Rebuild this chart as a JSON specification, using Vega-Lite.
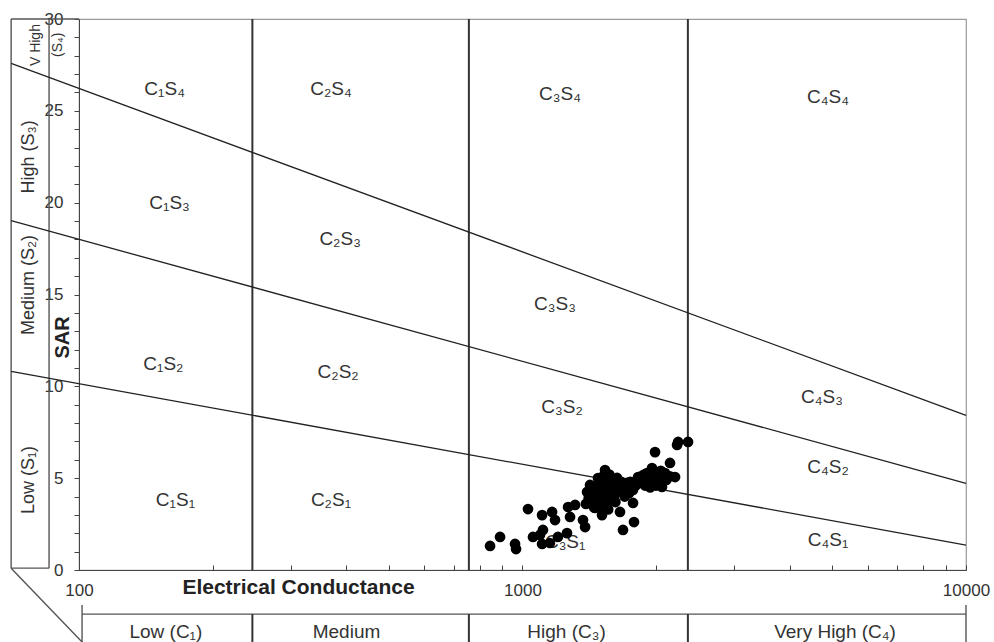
{
  "$schema": "https://vega.github.io/schema/vega-lite/v6.json",
  "width": 887,
  "height": 551,
  "autosize": {"type": "none"},
  "padding": {"left": 79, "top": 19, "right": 28, "bottom": 72},
  "background": "white",
  "config": {
    "font": "Liberation Sans",
    "view": {"stroke": "#9a9a9a", "strokeWidth": 1.2},
    "axis": {"grid": false}
  },
  "datasets": {
    "points": [
      {"ec": 845, "sar": 1.31}, {"ec": 890, "sar": 1.8}, {"ec": 962, "sar": 1.42}, {"ec": 967, "sar": 1.14},
      {"ec": 1029, "sar": 3.32}, {"ec": 1056, "sar": 1.8}, {"ec": 1095, "sar": 1.91}, {"ec": 1107, "sar": 2.99},
      {"ec": 1112, "sar": 2.18}, {"ec": 1107, "sar": 1.42}, {"ec": 1153, "sar": 1.47}, {"ec": 1166, "sar": 3.16},
      {"ec": 1184, "sar": 2.72}, {"ec": 1202, "sar": 1.8}, {"ec": 1260, "sar": 2.01}, {"ec": 1267, "sar": 3.43},
      {"ec": 1280, "sar": 2.89}, {"ec": 1314, "sar": 3.54}, {"ec": 1369, "sar": 2.72}, {"ec": 1384, "sar": 2.34},
      {"ec": 1398, "sar": 4.25}, {"ec": 1420, "sar": 4.63}, {"ec": 1442, "sar": 3.81}, {"ec": 1457, "sar": 3.38},
      {"ec": 1495, "sar": 4.9}, {"ec": 1511, "sar": 2.99}, {"ec": 1535, "sar": 5.44}, {"ec": 1550, "sar": 4.08},
      {"ec": 1591, "sar": 4.74}, {"ec": 1600, "sar": 3.97}, {"ec": 1659, "sar": 3.16}, {"ec": 1634, "sar": 5.01},
      {"ec": 1685, "sar": 2.18}, {"ec": 1720, "sar": 4.74}, {"ec": 1775, "sar": 3.65}, {"ec": 1784, "sar": 2.61},
      {"ec": 1775, "sar": 4.36}, {"ec": 1822, "sar": 5.06}, {"ec": 1870, "sar": 4.9}, {"ec": 1909, "sar": 5.28},
      {"ec": 1959, "sar": 5.55}, {"ec": 1990, "sar": 6.42}, {"ec": 1970, "sar": 4.74}, {"ec": 2042, "sar": 5.06},
      {"ec": 2063, "sar": 4.52}, {"ec": 2096, "sar": 5.28}, {"ec": 2151, "sar": 5.83}, {"ec": 2208, "sar": 5.06},
      {"ec": 2231, "sar": 6.81}, {"ec": 2243, "sar": 6.97}, {"ec": 2362, "sar": 6.97},
      {"ec": 1410, "sar": 3.9}, {"ec": 1430, "sar": 4.2}, {"ec": 1450, "sar": 4.5}, {"ec": 1470, "sar": 4.0},
      {"ec": 1480, "sar": 3.6}, {"ec": 1490, "sar": 4.3}, {"ec": 1510, "sar": 4.6}, {"ec": 1520, "sar": 4.0},
      {"ec": 1530, "sar": 3.7}, {"ec": 1545, "sar": 4.4}, {"ec": 1560, "sar": 4.8}, {"ec": 1570, "sar": 4.2},
      {"ec": 1580, "sar": 3.8}, {"ec": 1600, "sar": 4.5}, {"ec": 1615, "sar": 4.1}, {"ec": 1630, "sar": 4.6},
      {"ec": 1650, "sar": 4.3}, {"ec": 1670, "sar": 4.8}, {"ec": 1690, "sar": 4.4}, {"ec": 1480, "sar": 5.0},
      {"ec": 1520, "sar": 5.1}, {"ec": 1570, "sar": 5.2}, {"ec": 1450, "sar": 3.4}, {"ec": 1500, "sar": 3.5},
      {"ec": 1390, "sar": 3.6}, {"ec": 1620, "sar": 3.7}, {"ec": 1700, "sar": 4.0}, {"ec": 1750, "sar": 4.8},
      {"ec": 1800, "sar": 4.6}, {"ec": 1850, "sar": 5.1}, {"ec": 1890, "sar": 4.6}, {"ec": 1930, "sar": 5.0},
      {"ec": 2000, "sar": 5.2}, {"ec": 1940, "sar": 4.5}, {"ec": 2020, "sar": 4.8}, {"ec": 2080, "sar": 5.0},
      {"ec": 1560, "sar": 3.3}, {"ec": 1740, "sar": 4.2}, {"ec": 1880, "sar": 5.2}, {"ec": 1920, "sar": 4.9},
      {"ec": 1980, "sar": 5.0}, {"ec": 2000, "sar": 4.6}, {"ec": 2050, "sar": 5.4}, {"ec": 2110, "sar": 4.9},
      {"ec": 2150, "sar": 5.1}
    ],
    "boundaries": [
      {"line": "S3/S4", "ec": 70.3, "sar": 27.58}, {"line": "S3/S4", "ec": 10000, "sar": 8.42},
      {"line": "S2/S3", "ec": 70.3, "sar": 19.02}, {"line": "S2/S3", "ec": 10000, "sar": 4.72},
      {"line": "S1/S2", "ec": 70.3, "sar": 10.82}, {"line": "S1/S2", "ec": 10000, "sar": 1.36}
    ],
    "segments": [
      {"kind": "divider", "ec": 246, "sar": 0, "ec2": 246, "sar2": 30},
      {"kind": "divider", "ec": 757, "sar": 0, "ec2": 757, "sar2": 30},
      {"kind": "divider", "ec": 2360, "sar": 0, "ec2": 2360, "sar2": 30},
      {"kind": "divider", "ec": 246, "sar": -2.4, "ec2": 246, "sar2": -4.3},
      {"kind": "divider", "ec": 757, "sar": -2.4, "ec2": 757, "sar2": -4.3},
      {"kind": "divider", "ec": 2360, "sar": -2.4, "ec2": 2360, "sar2": -4.3},
      {"kind": "box", "ec": 101.6, "sar": -2.4, "ec2": 10000, "sar2": -2.4},
      {"kind": "box", "ec": 101.6, "sar": -1.9, "ec2": 101.6, "sar2": -4.3},
      {"kind": "box", "ec": 10000, "sar": -1.9, "ec2": 10000, "sar2": -4.3},
      {"kind": "box", "ec": 70.3, "sar": 0.1, "ec2": 70.3, "sar2": 30},
      {"kind": "box", "ec": 85.6, "sar": 0.1, "ec2": 85.6, "sar2": 30},
      {"kind": "box", "ec": 70.3, "sar": 0.1, "ec2": 85.6, "sar2": 0.1},
      {"kind": "box", "ec": 70.3, "sar": 30, "ec2": 100, "sar2": 30},
      {"kind": "box", "ec": 70.3, "sar": 0.1, "ec2": 101.6, "sar2": -3.92}
    ],
    "regions": [
      {"label": "C₁S₄", "ec": 156, "sar": 26.2}, {"label": "C₂S₄", "ec": 370, "sar": 26.2},
      {"label": "C₃S₄", "ec": 1215, "sar": 25.9}, {"label": "C₄S₄", "ec": 4885, "sar": 25.75},
      {"label": "C₁S₃", "ec": 160, "sar": 20.0}, {"label": "C₂S₃", "ec": 388, "sar": 18.0},
      {"label": "C₃S₃", "ec": 1184, "sar": 14.5}, {"label": "C₁S₂", "ec": 155, "sar": 11.2},
      {"label": "C₂S₂", "ec": 384, "sar": 10.8}, {"label": "C₃S₂", "ec": 1228, "sar": 8.9},
      {"label": "C₄S₃", "ec": 4735, "sar": 9.4}, {"label": "C₄S₂", "ec": 4885, "sar": 5.6},
      {"label": "C₁S₁", "ec": 165, "sar": 3.8}, {"label": "C₂S₁", "ec": 370, "sar": 3.8},
      {"label": "C₃S₁", "ec": 1248, "sar": 1.5}, {"label": "C₄S₁", "ec": 4885, "sar": 1.63}
    ],
    "ecClasses": [
      {"label": "Low (C₁)", "ec": 157, "sar": -3.38},
      {"label": "Medium", "ec": 401, "sar": -3.38},
      {"label": "High (C₃)", "ec": 1257, "sar": -3.38},
      {"label": "Very High (C₄)", "ec": 5066, "sar": -3.38}
    ],
    "sarClasses": [
      {"label": "High (S₃)", "ec": 77, "sar": 22.49},
      {"label": "Medium (S₂)", "ec": 77, "sar": 15.52},
      {"label": "Low (S₁)", "ec": 77, "sar": 4.9}
    ],
    "sarTop": [
      {"label": "V High", "ec": 80.0, "sar": 28.58},
      {"label": "(S₄)", "ec": 89.9, "sar": 28.6}
    ]
  },
  "encoding": {
    "x": {
      "field": "ec",
      "type": "quantitative",
      "scale": {"type": "log", "domain": [100, 10000], "nice": false},
      "axis": {
        "values": [100, 200, 300, 400, 500, 600, 700, 800, 900, 1000, 2000, 3000, 4000, 5000, 6000, 7000, 8000, 9000, 10000],
        "format": "d",
        "labelExpr": "datum.value == 100 || datum.value == 1000 || datum.value == 10000 ? datum.label : ''",
        "labelFontSize": 17,
        "labelColor": "#333",
        "labelOverlap": false,
        "labelFlush": false,
        "labelBound": false,
        "tickSize": -5,
        "labelPadding": 17,
        "domainColor": "#444",
        "tickColor": "#444",
        "title": "Electrical Conductance",
        "titleFontSize": 21,
        "titleFontWeight": "bold",
        "titleColor": "#222",
        "titleX": 219,
        "titleY": 17,
        "titleAlign": "center",
        "titleBaseline": "middle"
      }
    },
    "y": {
      "field": "sar",
      "type": "quantitative",
      "scale": {"domain": [0, 30], "nice": false, "zero": false},
      "axis": {
        "values": [0, 1, 2, 3, 4, 5, 6, 7, 8, 9, 10, 11, 12, 13, 14, 15, 16, 17, 18, 19, 20, 21, 22, 23, 24, 25, 26, 27, 28, 29, 30],
        "labelExpr": "datum.value % 5 == 0 ? datum.label : ''",
        "labelFontSize": 17,
        "labelColor": "#333",
        "labelOverlap": false,
        "labelFlush": false,
        "labelBound": false,
        "tickSize": 5,
        "labelPadding": 11,
        "domainColor": "#444",
        "tickColor": "#444",
        "title": "SAR",
        "titleAngle": 270,
        "titleX": -17,
        "titleY": 318,
        "titleAlign": "center",
        "titleBaseline": "middle",
        "titleFontSize": 20,
        "titleFontWeight": "bold",
        "titleColor": "#222"
      }
    }
  },
  "layer": [
    {
      "data": {"name": "segments"},
      "transform": [{"filter": "datum.kind == 'box'"}],
      "mark": {"type": "rule", "clip": false, "color": "#555", "strokeWidth": 1.4},
      "encoding": {"x2": {"field": "ec2"}, "y2": {"field": "sar2"}}
    },
    {
      "data": {"name": "segments"},
      "transform": [{"filter": "datum.kind == 'divider'"}],
      "mark": {"type": "rule", "clip": false, "color": "#333", "strokeWidth": 2},
      "encoding": {"x2": {"field": "ec2"}, "y2": {"field": "sar2"}}
    },
    {
      "data": {"name": "boundaries"},
      "mark": {"type": "line", "clip": false, "color": "#222", "strokeWidth": 1.3},
      "encoding": {"detail": {"field": "line"}}
    },
    {
      "data": {"name": "regions"},
      "mark": {"type": "text", "clip": false, "fontSize": 19, "color": "#333", "align": "center", "baseline": "middle"},
      "encoding": {"text": {"field": "label"}}
    },
    {
      "data": {"name": "points"},
      "mark": {"type": "circle", "clip": false, "color": "black", "opacity": 1, "size": 115}
    },
    {
      "data": {"name": "ecClasses"},
      "mark": {"type": "text", "clip": false, "fontSize": 19, "color": "#333", "align": "center", "baseline": "middle"},
      "encoding": {"text": {"field": "label"}}
    },
    {
      "data": {"name": "sarClasses"},
      "mark": {"type": "text", "clip": false, "fontSize": 18, "color": "#333", "align": "center", "baseline": "middle", "angle": 270},
      "encoding": {"text": {"field": "label"}}
    },
    {
      "data": {"name": "sarTop"},
      "mark": {"type": "text", "clip": false, "fontSize": 14, "color": "#333", "align": "center", "baseline": "middle", "angle": 270},
      "encoding": {"text": {"field": "label"}}
    }
  ]
}
